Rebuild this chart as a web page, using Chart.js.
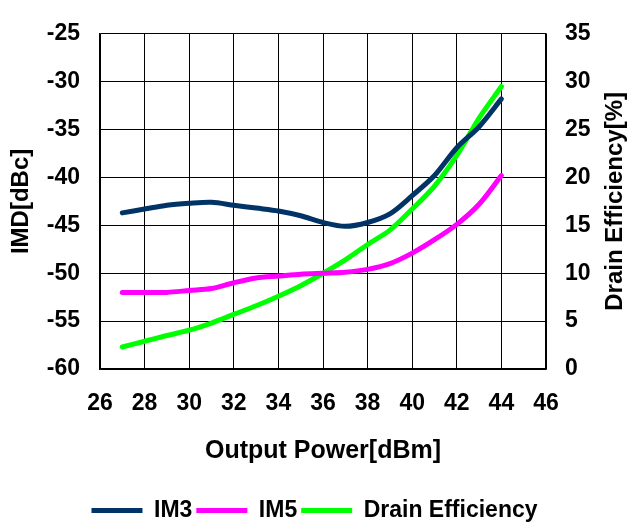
<!DOCTYPE html>
<html>
<head>
<meta charset="utf-8">
<script src="https://cdn.jsdelivr.net/npm/chart.js@4"></script>
<style>
  html, body { margin: 0; padding: 0; background: #fff; }
  #wrap { width: 629px; height: 525px; }
</style>
</head>
<body>
<div id="wrap"><canvas id="chart" width="629" height="525"></canvas></div>
<script>
// Output power (dBm)
const potencia = [27, 28, 29, 30, 31, 32, 33, 34, 35, 36, 37, 38, 39, 40, 41, 42, 43, 44];
// IMD em dBc
const im3 = [-43.7, -43.3, -42.9, -42.7, -42.6, -42.9, -43.2, -43.5, -44.0, -44.7, -45.1, -44.7, -43.8, -41.9, -39.8, -36.9, -34.7, -31.8];
const im5 = [-52.0, -52.0, -52.0, -51.8, -51.6, -51.0, -50.5, -50.3, -50.1, -50.0, -49.9, -49.6, -49.0, -47.9, -46.5, -44.9, -42.8, -39.8];
// Drain efficiency em %
const eficiencia = [2.3, 2.9, 3.5, 4.05, 4.8, 5.7, 6.6, 7.6, 8.7, 10.0, 11.4, 13.0, 14.5, 16.7, 19.1, 22.3, 26.2, 29.5];

const fonte = "'Liberation Sans', Arial, sans-serif";

const pontos = (valores) => potencia.map((p, i) => ({ x: p, y: valores[i] }));

const serie = (label, valores, cor, eixo) => ({
    label: label,
    data: pontos(valores),
    borderColor: cor,
    backgroundColor: cor,
    borderWidth: 5,
    borderCapStyle: 'round',
    borderJoinStyle: 'round',
    pointRadius: 0,
    pointStyle: 'line',
    tension: 0.3,
    yAxisID: eixo
});

// titulo do eixo direito (lido de baixo para cima)
const tituloDireita = {
    id: 'tituloDireita',
    afterDraw(chart) {
        const ctx = chart.ctx;
        ctx.save();
        ctx.translate(615, (chart.chartArea.top + chart.chartArea.bottom) / 2);
        ctx.rotate(-Math.PI / 2);
        ctx.font = `bold 24px ${fonte}`;
        ctx.fillStyle = '#000';
        ctx.textAlign = 'center';
        ctx.textBaseline = 'middle';
        ctx.fillText('Drain Efficiency[%]', 0, 0);
        ctx.restore();
    }
};

new Chart(document.getElementById('chart'), {
    type: 'line',
    data: {
        datasets: [
            serie('IM3', im3, '#003366', 'y'),
            serie('IM5', im5, '#FF00FF', 'y'),
            serie('Drain Efficiency', eficiencia, '#00FF00', 'y2')
        ]
    },
    options: {
        responsive: false,
        animation: false,
        layout: { padding: { top: 22, left: 0, right: 0, bottom: -7 } },
        scales: {
            x: {
                type: 'linear',
                min: 26,
                max: 46,
                ticks: {
                    stepSize: 2,
                    padding: 21,
                    color: '#000',
                    font: { family: fonte, size: 23, weight: 'bold' }
                },
                grid: { color: '#000', lineWidth: 1, drawTicks: false },
                border: { color: '#000', width: 1.5 },
                title: {
                    display: true,
                    text: 'Output Power[dBm]',
                    color: '#000',
                    font: { family: fonte, size: 25, weight: 'bold' },
                    padding: { top: 0, bottom: 29 }
                },
                afterFit: (eixo) => { eixo.height = 126; }
            },
            y: {
                position: 'left',
                min: -60,
                max: -25,
                ticks: {
                    stepSize: 5,
                    padding: 20,
                    color: '#000',
                    font: { family: fonte, size: 23, weight: 'bold' }
                },
                grid: { color: '#000', lineWidth: 1, drawTicks: false },
                border: { color: '#000', width: 1.5 },
                title: {
                    display: true,
                    text: 'IMD[dBc]',
                    color: '#000',
                    font: { family: fonte, size: 24, weight: 'bold' },
                    padding: { top: 7, bottom: 0 }
                },
                afterFit: (eixo) => { eixo.width = 100; }
            },
            y2: {
                position: 'right',
                min: 0,
                max: 35,
                ticks: {
                    stepSize: 5,
                    padding: 19,
                    color: '#000',
                    font: { family: fonte, size: 23, weight: 'bold' }
                },
                grid: { drawOnChartArea: false, drawTicks: false },
                border: { color: '#000', width: 1.5 },
                afterFit: (eixo) => { eixo.width = 83; }
            }
        },
        plugins: {
            legend: {
                position: 'bottom',
                labels: {
                    usePointStyle: true,
                    pointStyleWidth: 51,
                    padding: 4,
                    color: '#000',
                    font: { family: fonte, size: 23, weight: 'bold' }
                }
            },
            tooltip: { enabled: false }
        }
    },
    plugins: [tituloDireita]
});
</script>
</body>
</html>
